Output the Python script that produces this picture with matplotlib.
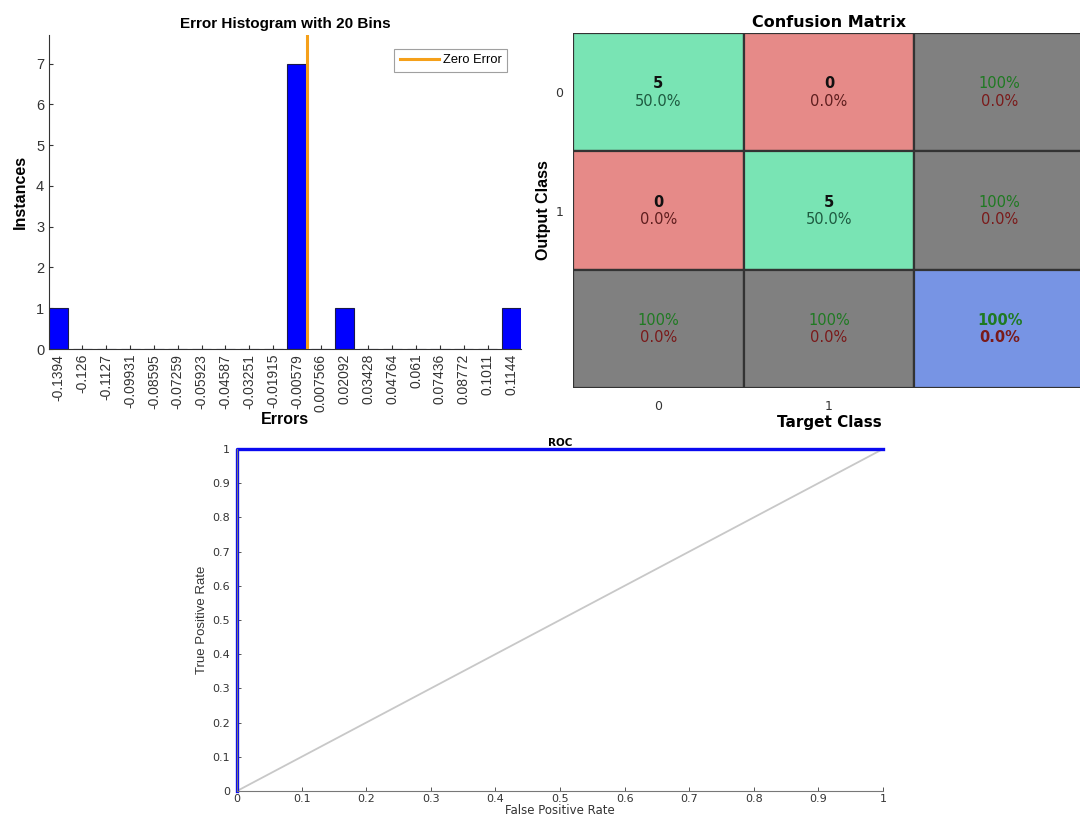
import numpy as np
import matplotlib
matplotlib.use("Agg")
import matplotlib.pyplot as plt
from matplotlib.patches import Rectangle

# ---------------- data ----------------
bin_labels = ["-0.1394", "-0.126", "-0.1127", "-0.09931", "-0.08595", "-0.07259",
              "-0.05923", "-0.04587", "-0.03251", "-0.01915", "-0.00579", "0.007566",
              "0.02092", "0.03428", "0.04764", "0.061", "0.07436", "0.08772",
              "0.1011", "0.1144"]
bin_counts = [1, 0, 0, 0, 0, 0, 0, 0, 0, 0, 7, 0, 1, 0, 0, 0, 0, 0, 0, 1]

class_labels = ["0", "1"]
confusion = [[5, 0],
             [0, 5]]

roc_fpr = [0.0, 0.0, 1.0]
roc_tpr = [0.0, 1.0, 1.0]
diag_x = [0.0, 1.0]
diag_y = [0.0, 1.0]

W, H = 1080, 819
fig = plt.figure(figsize=(W / 100, H / 100), dpi=100)
fig.patch.set_facecolor("white")


def px_axes(left, top, right, bottom):
    return fig.add_axes([left / W, 1 - bottom / H, (right - left) / W, (bottom - top) / H])


sans = ["Liberation Sans", "DejaVu Sans"]
narrow = ["Liberation Sans Narrow", "Liberation Sans", "DejaVu Sans"]
wide = ["DejaVu Sans"]

# ---------------- error histogram ----------------
ax1 = px_axes(49, 35, 521, 349)
centers = np.array([float(s) for s in bin_labels])
step = centers[1] - centers[0]
bw = 0.8 * step
ax1.bar(centers, bin_counts, width=bw, color="#0000FF", edgecolor="#1a1a4a",
        linewidth=0.8, zorder=2)
ax1.axvline(0.0, color="#F5A01A", linewidth=2.2, label="Zero Error", zorder=3)
ax1.set_xlim(centers[0] - bw / 2, centers[-1] + bw / 2)
ax1.set_ylim(0, 7.7)
ax1.set_xticks(centers)
ax1.set_xticklabels(bin_labels, rotation=90, fontsize=10, family=sans, color="#333333")
ax1.set_yticks(range(0, 8))
ax1.set_yticklabels([str(i) for i in range(8)], fontsize=10.5, family=sans, color="#333333")
ax1.tick_params(direction="in", length=3, color="#333333", width=0.8)
for side in ("top", "right"):
    ax1.spines[side].set_visible(False)
for side in ("left", "bottom"):
    ax1.spines[side].set_color("#333333")
    ax1.spines[side].set_linewidth(0.8)
ax1.set_title("Error Histogram with 20 Bins", fontsize=11, fontweight="bold",
              family=sans, pad=5)
ax1.set_ylabel("Instances", fontsize=11.5, fontweight="bold", family=sans, labelpad=6)
ax1.set_xlabel("Errors", fontsize=11.5, fontweight="bold", family=sans, labelpad=0)
leg = ax1.legend(loc="upper right", frameon=True, fancybox=False,
                 borderaxespad=1.05, handlelength=3.0, handletextpad=0.3,
                 borderpad=0.45, prop={"family": sans, "size": 9.3})
leg.get_frame().set_edgecolor("#888888")
leg.get_frame().set_linewidth(0.8)

# ---------------- confusion matrix ----------------
cm = np.array(confusion)
n = cm.shape[0]
total = cm.sum()
ax2 = px_axes(573, 33, 1085, 388)
ax2.set_xlim(-0.5, n + 0.5)
ax2.set_ylim(n + 0.5, -0.5)

green, red, gray, blue = "#79E4B4", "#E68A88", "#808080", "#7794E4"
txt_green_dark = "#1E5A40"
txt_red_dark = "#5E1E1E"
txt_green = "#1F7A22"
txt_red = "#7A1A1A"
cell_fs = 10.5

for r in range(n + 1):
    for c in range(n + 1):
        if r < n and c < n:
            face = green if r == c else red
        elif r == n and c == n:
            face = blue
        else:
            face = gray
        ax2.add_patch(Rectangle((c - 0.5, r - 0.5), 1, 1, facecolor=face,
                                edgecolor="#333333", linewidth=1.6, zorder=1))
        if r < n and c < n:
            val = cm[r, c]
            pct = 100.0 * val / total
            ax2.text(c, r - 0.07, f"{val}", ha="center", va="center", fontsize=cell_fs,
                     fontweight="bold", color="#111111", family=wide)
            ax2.text(c, r + 0.075, f"{pct:.1f}%", ha="center", va="center", fontsize=cell_fs,
                     color=txt_green_dark if r == c else txt_red_dark, family=wide)
        else:
            if r < n:
                correct = cm[r, r]
                tot = cm[r, :].sum()
            elif c < n:
                correct = cm[c, c]
                tot = cm[:, c].sum()
            else:
                correct = np.trace(cm)
                tot = total
            acc = 100.0 * correct / tot
            err = 100.0 - acc
            bold = "bold" if (r == n and c == n) else "normal"
            ax2.text(c, r - 0.07, f"{acc:.0f}%", ha="center", va="center", fontsize=cell_fs,
                     color=txt_green, family=wide, fontweight=bold)
            ax2.text(c, r + 0.075, f"{err:.1f}%", ha="center", va="center", fontsize=cell_fs,
                     color=txt_red, family=wide, fontweight=bold)

ax2.set_xticks(range(n))
ax2.set_xticklabels(class_labels, fontsize=9, family=wide, color="#333333")
ax2.set_yticks(range(n))
ax2.set_yticklabels(class_labels, fontsize=9, family=wide, color="#333333")
ax2.tick_params(axis="x", length=0, pad=9)
ax2.tick_params(axis="y", length=0, pad=7)
for s in ax2.spines.values():
    s.set_visible(False)
ax2.set_title("Confusion Matrix", fontsize=11.5, fontweight="bold", family=wide, pad=4)
ax2.set_xlabel("Target Class", fontsize=11, fontweight="bold", family=wide, labelpad=1)
ax2.set_ylabel("Output Class", fontsize=11.5, fontweight="bold", family=sans, labelpad=3)

# ---------------- ROC ----------------
ax3 = px_axes(237, 449, 883, 791)
ax3.plot(diag_x, diag_y, color="#C8C8C8", linewidth=1.3, zorder=1)
ax3.plot(roc_fpr, roc_tpr, color="#0A0AF0", linewidth=2.4, zorder=2, clip_on=False)
ax3.set_xlim(0, 1)
ax3.set_ylim(0, 1)
ticks = np.round(np.arange(0, 1.01, 0.1), 1)
tick_lbls = ["0"] + [f"{t:.1f}" for t in ticks[1:-1]] + ["1"]
ax3.set_xticks(ticks)
ax3.set_xticklabels(tick_lbls, fontsize=8, family=wide, color="#333333")
ax3.set_yticks(ticks)
ax3.set_yticklabels(tick_lbls, fontsize=8, family=wide, color="#333333")
ax3.tick_params(direction="in", length=3, color="#555555", width=0.7)
ax3.tick_params(axis="x", pad=2)
ax3.tick_params(axis="y", pad=5)
for side in ("top", "right"):
    ax3.spines[side].set_visible(False)
for side in ("left", "bottom"):
    ax3.spines[side].set_color("#777777")
    ax3.spines[side].set_linewidth(0.8)
ax3.set_title("ROC", fontsize=7.5, fontweight="bold", family=wide, pad=2)
ax3.set_xlabel("False Positive Rate", fontsize=8.5, family=wide, color="#333333", labelpad=0)
ax3.set_ylabel("True Positive Rate", fontsize=9.5, family=narrow, color="#333333", labelpad=3)

fig.savefig("out.png", dpi=100)
